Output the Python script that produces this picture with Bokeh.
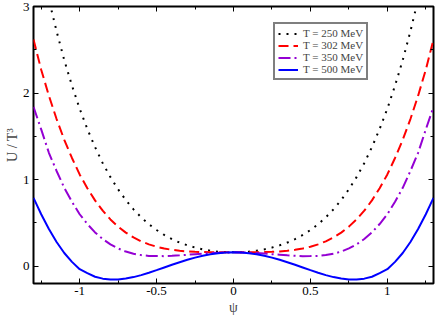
from bokeh.plotting import figure
from bokeh.models import (SingleIntervalTicker, LinearAxis, Legend, LegendItem, Range1d,
                          CustomJSTickFormatter)
from bokeh.embed import file_html
from bokeh.resources import INLINE

psi = [-1.3, -1.25, -1.2, -1.15, -1.1, -1.05, -1.0, -0.95, -0.9, -0.85, -0.8, -0.75, -0.7, -0.65,
       -0.6, -0.55, -0.5, -0.45, -0.4, -0.35, -0.3, -0.25, -0.2, -0.15, -0.1, -0.05, 0.0,
       0.05, 0.1, 0.15, 0.2, 0.25, 0.3, 0.35, 0.4, 0.45, 0.5, 0.55, 0.6, 0.65,
       0.7, 0.75, 0.8, 0.85, 0.9, 0.95, 1.0, 1.05, 1.1, 1.15, 1.2, 1.25, 1.3]

u_250 = [3.95, 3.494, 3.08, 2.715, 2.38, 2.086, 1.82, 1.585, 1.376, 1.19, 1.029, 0.888, 0.764, 0.657,
         0.564, 0.485, 0.418, 0.361, 0.313, 0.273, 0.241, 0.215, 0.194, 0.179, 0.168, 0.162, 0.16,
         0.162, 0.168, 0.179, 0.194, 0.215, 0.241, 0.273, 0.313, 0.361, 0.418, 0.485, 0.564, 0.657,
         0.764, 0.888, 1.029, 1.19, 1.376, 1.585, 1.82, 2.086, 2.38, 2.715, 3.08, 3.494, 3.95]
u_302 = [2.62, 2.27, 1.97, 1.70, 1.46, 1.25, 1.06, 0.901, 0.76, 0.641, 0.54, 0.457, 0.388, 0.332,
         0.287, 0.252, 0.225, 0.204, 0.189, 0.178, 0.171, 0.166, 0.163, 0.161, 0.161, 0.160, 0.16,
         0.160, 0.161, 0.161, 0.163, 0.166, 0.171, 0.178, 0.189, 0.204, 0.225, 0.252, 0.287, 0.332,
         0.388, 0.457, 0.54, 0.641, 0.76, 0.901, 1.06, 1.25, 1.46, 1.70, 1.97, 2.27, 2.62]
u_350 = [1.84, 1.58, 1.31, 1.10, 0.905, 0.744, 0.60, 0.487, 0.39, 0.314, 0.252, 0.205, 0.169, 0.144,
         0.128, 0.119, 0.117, 0.116, 0.12, 0.125, 0.132, 0.139, 0.146, 0.152, 0.156, 0.159, 0.16,
         0.159, 0.156, 0.152, 0.146, 0.139, 0.132, 0.125, 0.12, 0.116, 0.117, 0.119, 0.128, 0.144,
         0.169, 0.205, 0.252, 0.314, 0.39, 0.487, 0.60, 0.744, 0.905, 1.10, 1.31, 1.58, 1.84]
u_500 = [0.79, 0.60, 0.43, 0.28, 0.152, 0.05, -0.035, -0.081, -0.122, -0.144, -0.155, -0.153, -0.143, -0.126,
         -0.103, -0.075, -0.046, -0.015, 0.016, 0.046, 0.074, 0.099, 0.12, 0.137, 0.15, 0.157, 0.16,
         0.157, 0.15, 0.137, 0.12, 0.099, 0.074, 0.046, 0.016, -0.015, -0.046, -0.075, -0.103, -0.126,
         -0.143, -0.153, -0.155, -0.144, -0.122, -0.081, -0.035, 0.05, 0.152, 0.28, 0.43, 0.60, 0.79]

labels = ["T = 250 MeV", "T = 302 MeV", "T = 350 MeV", "T = 500 MeV"]
x_tick_labels = {-1.0: "-1", -0.5: "-0.5", 0.0: "0", 0.5: "0.5", 1.0: "1"}

FONT = "Liberation Serif"

p = figure(width=436, height=317, output_backend="svg", toolbar_location=None,
           x_range=Range1d(-1.3, 1.3), y_range=Range1d(-0.2, 3.0),
           min_border_left=33, min_border_right=3, min_border_top=6, min_border_bottom=31)
p.grid.visible = False
p.outline_line_color = "black"
p.outline_line_width = 2
p.background_fill_color = "white"

r1 = p.line(psi, u_250, line_color="black", line_width=2, line_dash="2 6")
r2 = p.line(psi, u_302, line_color="#ff0000", line_width=2, line_dash="10 5")
r3 = p.line(psi, u_350, line_color="#9400d3", line_width=2, line_dash="12 4 2 4")
r4 = p.line(psi, u_500, line_color="#0000ff", line_width=2)

def style_axis(ax):
    ax.axis_line_color = None
    ax.major_tick_in = 5
    ax.major_tick_out = 0
    ax.minor_tick_in = 3
    ax.minor_tick_out = 0
    ax.major_tick_line_color = "black"
    ax.minor_tick_line_color = "black"
    ax.major_label_text_font = FONT
    ax.major_label_text_font_size = "13px"
    ax.major_label_text_color = "black"
    ax.major_label_standoff = 3
    ax.axis_label_text_font = FONT
    ax.axis_label_text_font_style = "normal"
    ax.axis_label_text_font_size = "14px"
    ax.axis_label_standoff = 2

xb = p.xaxis[0]
xb.ticker = SingleIntervalTicker(interval=0.5, num_minor_ticks=2)
xb.major_label_overrides = x_tick_labels
xb.axis_label = "ψ"
style_axis(xb)

yl = p.yaxis[0]
yl.ticker = SingleIntervalTicker(interval=1, num_minor_ticks=2)
yl.axis_label = "U / T³"
style_axis(yl)
yl.axis_label_standoff = 0
yl.major_label_standoff = 4

blank = CustomJSTickFormatter(code="return '';")
xt = LinearAxis(ticker=SingleIntervalTicker(interval=0.5, num_minor_ticks=2), formatter=blank)
style_axis(xt)
xt.major_label_standoff = 0
p.add_layout(xt, "above")
yr = LinearAxis(ticker=SingleIntervalTicker(interval=1, num_minor_ticks=2), formatter=blank)
style_axis(yr)
yr.major_label_standoff = 0
p.add_layout(yr, "right")

legend = Legend(items=[LegendItem(label=labels[0], renderers=[r1]),
                       LegendItem(label=labels[1], renderers=[r2]),
                       LegendItem(label=labels[2], renderers=[r3]),
                       LegendItem(label=labels[3], renderers=[r4])],
                location=(240, 203))
legend.label_text_font = FONT
legend.label_text_font_size = "11px"
legend.label_height = 11
legend.glyph_height = 11
legend.glyph_width = 20
legend.label_standoff = 5
legend.spacing = 0
legend.padding = 3
legend.margin = 0
legend.border_line_color = "black"
legend.border_line_width = 2
legend.background_fill_alpha = 1
p.add_layout(legend)

open("out.html", "w").write(file_html(p, INLINE))
